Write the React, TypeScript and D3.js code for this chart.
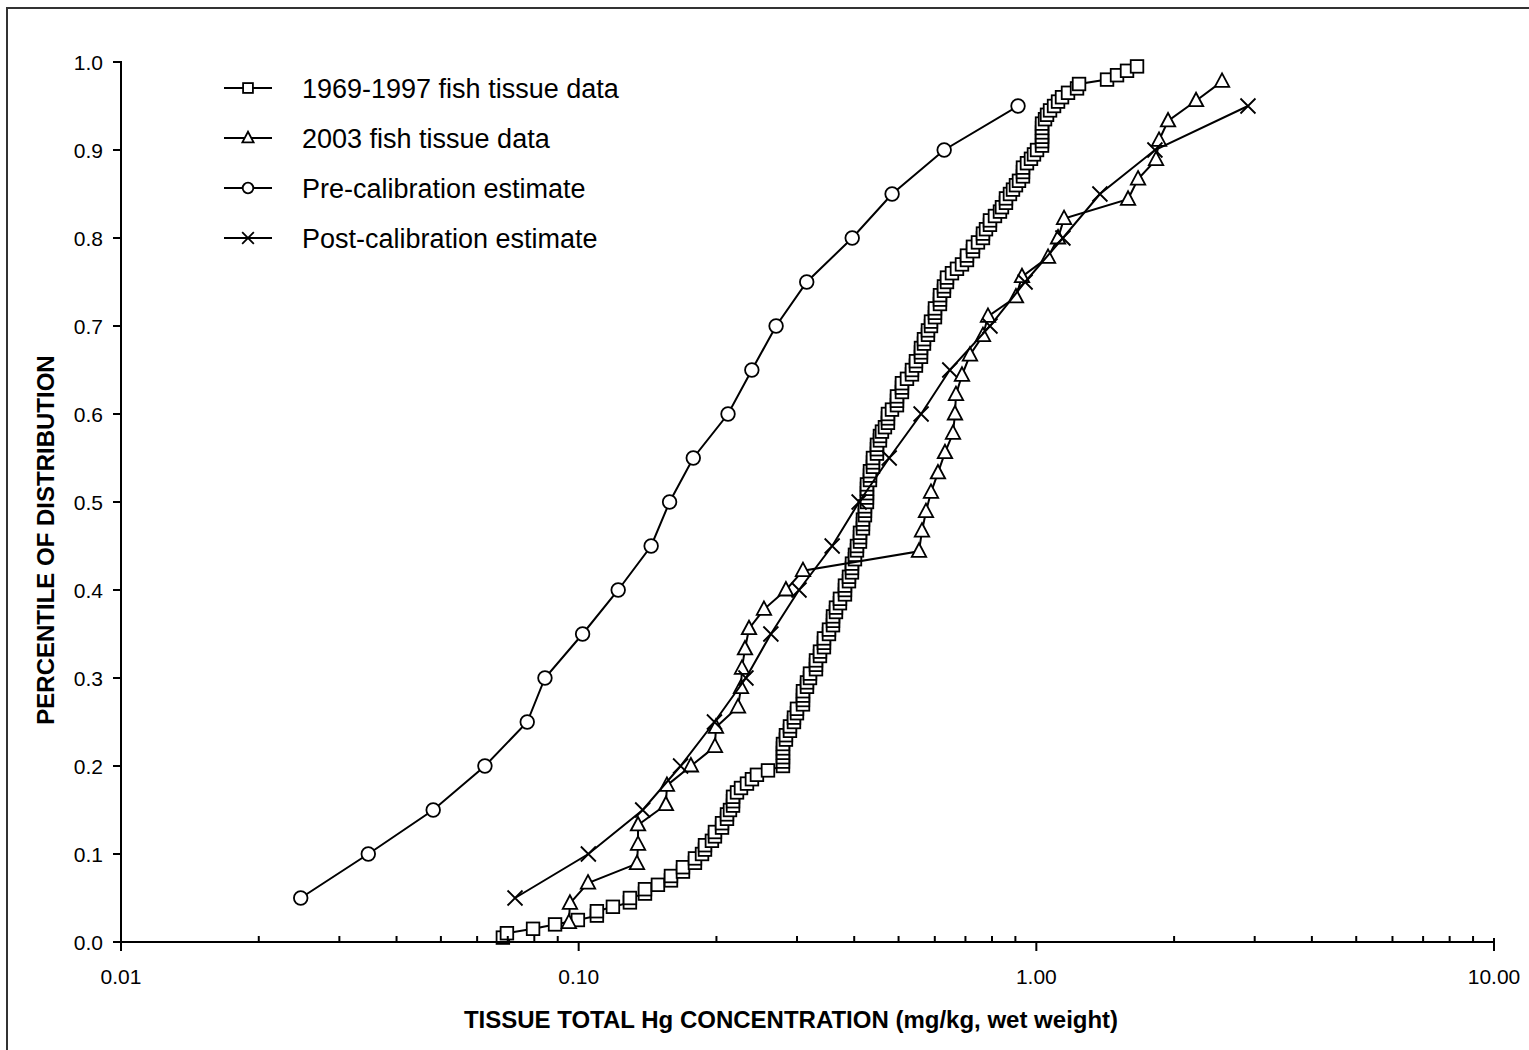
import * as d3 from "d3";

// percentiles for the two estimate curves
const estimatePct = [0.05, 0.1, 0.15, 0.2, 0.25, 0.3, 0.35, 0.4, 0.45, 0.5, 0.55, 0.6, 0.65, 0.7, 0.75, 0.8, 0.85, 0.9, 0.95];
const preCalHg = [0.0247, 0.0347, 0.0481, 0.0624, 0.0772, 0.0844, 0.102, 0.122, 0.144, 0.158, 0.178, 0.212, 0.239, 0.27, 0.315, 0.396, 0.484, 0.629, 0.912];
const postCalHg = [0.0726, 0.105, 0.138, 0.167, 0.198, 0.232, 0.263, 0.303, 0.358, 0.41, 0.477, 0.56, 0.647, 0.792, 0.945, 1.143, 1.377, 1.816, 2.9];

// 2003 fish tissue data
const fish2003Pct = [0.022, 0.044, 0.067, 0.089, 0.111, 0.133, 0.156, 0.178, 0.2, 0.222, 0.244, 0.267, 0.289, 0.311, 0.333, 0.356, 0.378, 0.4, 0.422, 0.444, 0.467, 0.489, 0.511, 0.533, 0.556, 0.578, 0.6, 0.622, 0.644, 0.667, 0.689, 0.711, 0.733, 0.756, 0.778, 0.8, 0.822, 0.844, 0.867, 0.889, 0.911, 0.933, 0.956, 0.978];
const fish2003Hg = [0.0952, 0.0957, 0.1048, 0.1341, 0.1348, 0.1348, 0.1551, 0.1559, 0.1759, 0.1985, 0.1995, 0.2229, 0.2263, 0.2274, 0.2309, 0.2356, 0.254, 0.2837, 0.3091, 0.5541, 0.5625, 0.5739, 0.5886, 0.6096, 0.6315, 0.6575, 0.6641, 0.6674, 0.6879, 0.7161, 0.7645, 0.784, 0.9026, 0.9303, 1.0606, 1.1154, 1.1496, 1.5863, 1.6681, 1.8262, 1.854, 1.9398, 2.2334, 2.5454];

// 1969-1997 fish tissue data
const fishHistPct = [
  0.005, 0.01, 0.015, 0.02, 0.025, 0.03, 0.035, 0.04, 0.045, 0.05, 0.055, 0.06, 0.065, 0.07, 0.075, 0.08, 0.085, 0.09, 0.095, 0.1,
  0.105, 0.11, 0.115, 0.12, 0.125, 0.13, 0.135, 0.14, 0.145, 0.15, 0.155, 0.16, 0.165, 0.17, 0.175, 0.18, 0.185, 0.19, 0.195, 0.2,
  0.205, 0.21, 0.215, 0.22, 0.225, 0.23, 0.235, 0.24, 0.245, 0.25, 0.255, 0.26, 0.265, 0.27, 0.275, 0.28, 0.285, 0.29, 0.295, 0.3,
  0.305, 0.31, 0.315, 0.32, 0.325, 0.33, 0.335, 0.34, 0.345, 0.35, 0.355, 0.36, 0.365, 0.37, 0.375, 0.38, 0.385, 0.39, 0.395, 0.4,
  0.405, 0.41, 0.415, 0.42, 0.425, 0.43, 0.435, 0.44, 0.445, 0.45, 0.455, 0.46, 0.465, 0.47, 0.475, 0.48, 0.485, 0.49, 0.495, 0.5,
  0.505, 0.51, 0.515, 0.52, 0.525, 0.53, 0.535, 0.54, 0.545, 0.55, 0.555, 0.56, 0.565, 0.57, 0.575, 0.58, 0.585, 0.59, 0.595, 0.6,
  0.605, 0.61, 0.615, 0.62, 0.625, 0.63, 0.635, 0.64, 0.645, 0.65, 0.655, 0.66, 0.665, 0.67, 0.675, 0.68, 0.685, 0.69, 0.695, 0.7,
  0.705, 0.71, 0.715, 0.72, 0.725, 0.73, 0.735, 0.74, 0.745, 0.75, 0.755, 0.76, 0.765, 0.77, 0.775, 0.78, 0.785, 0.79, 0.795, 0.8,
  0.805, 0.81, 0.815, 0.82, 0.825, 0.83, 0.835, 0.84, 0.845, 0.85, 0.855, 0.86, 0.865, 0.87, 0.875, 0.88, 0.885, 0.89, 0.895, 0.9,
  0.905, 0.91, 0.915, 0.92, 0.925, 0.93, 0.935, 0.94, 0.945, 0.95, 0.955, 0.96, 0.965, 0.97, 0.975, 0.98, 0.985, 0.99, 0.995,
];
const fishHistHg = [
  0.0683, 0.0697, 0.0795, 0.0888, 0.0996, 0.1096, 0.1096, 0.1188, 0.1294, 0.1294, 0.1396, 0.1396, 0.149, 0.1591, 0.1591, 0.169, 0.169, 0.1795, 0.1795, 0.186,
  0.1888, 0.1888, 0.1955, 0.1985, 0.1985, 0.2057, 0.2057, 0.2109, 0.2109, 0.2141, 0.2174, 0.2174, 0.2174, 0.2218, 0.2263, 0.2332, 0.2391, 0.2452, 0.2592, 0.2795,
  0.2795, 0.2795, 0.2795, 0.2795, 0.2795, 0.2837, 0.2837, 0.2895, 0.2895, 0.2954, 0.2954, 0.2999, 0.2999, 0.3091, 0.3091, 0.3091, 0.3091, 0.3154, 0.3154, 0.3202,
  0.3202, 0.33, 0.33, 0.33, 0.3367, 0.3367, 0.3435, 0.3435, 0.3435, 0.3523, 0.3523, 0.3595, 0.3595, 0.3595, 0.3649, 0.3649, 0.3723, 0.3723, 0.3818, 0.3818,
  0.3818, 0.3896, 0.3896, 0.3955, 0.3955, 0.3955, 0.4015, 0.4015, 0.4056, 0.4056, 0.4118, 0.4118, 0.4118, 0.418, 0.418, 0.418, 0.4222, 0.4222, 0.4222, 0.4265,
  0.4265, 0.4265, 0.4265, 0.4265, 0.433, 0.433, 0.433, 0.4396, 0.4396, 0.4396, 0.4485, 0.4485, 0.4485, 0.4553, 0.4553, 0.4599, 0.4669, 0.474, 0.474, 0.474,
  0.4837, 0.496, 0.496, 0.496, 0.5086, 0.5086, 0.5086, 0.5216, 0.5349, 0.5349, 0.5457, 0.5457, 0.5597, 0.5597, 0.5597, 0.5682, 0.5682, 0.5797, 0.5797, 0.5886,
  0.5886, 0.6005, 0.6005, 0.6005, 0.6158, 0.6158, 0.6158, 0.6283, 0.6283, 0.6379, 0.6379, 0.6541, 0.6708, 0.6879, 0.7054, 0.7054, 0.727, 0.727, 0.7455, 0.7645,
  0.7645, 0.7762, 0.7919, 0.7919, 0.8121, 0.8328, 0.8412, 0.8583, 0.8583, 0.8758, 0.8891, 0.9026, 0.9164, 0.935, 0.935, 0.935, 0.954, 0.9734, 0.9882, 1.0035,
  1.0291, 1.0291, 1.0291, 1.0291, 1.0291, 1.0291, 1.0447, 1.0553, 1.0714, 1.0932, 1.1154, 1.138, 1.1729, 1.2272, 1.2397, 1.4272, 1.5008, 1.5782, 1.6596,
];

const yTicks = [0, 0.1, 0.2, 0.3, 0.4, 0.5, 0.6, 0.7, 0.8, 0.9, 1.0];
const xMajorTicks = [0.01, 0.1, 1, 10];
const xTickLabels = ["0.01", "0.10", "1.00", "10.00"];
const xMinorTicks = [0.02, 0.03, 0.04, 0.05, 0.06, 0.07, 0.08, 0.09, 0.2, 0.3, 0.4, 0.5, 0.6, 0.7, 0.8, 0.9, 2, 3, 4, 5, 6, 7, 8, 9];

const legendNames = ["1969-1997 fish tissue data", "2003 fish tissue data", "Pre-calibration estimate", "Post-calibration estimate"];

const FONT = "'Liberation Sans', Arial, Helvetica, sans-serif";

type Shape = "square" | "triangle" | "circle" | "cross";

function Marker({ shape, x, y, s = 1 }: { shape: Shape; x: number; y: number; s?: number }) {
  const common = { fill: "#fff", stroke: "#000", strokeWidth: 1.8 };
  if (shape === "square") {
    const h = 6.3 * s;
    return <rect x={x - h} y={y - h} width={h * 2} height={h * 2} {...common} />;
  }
  if (shape === "circle") return <circle cx={x} cy={y} r={6.8 * s} {...common} />;
  if (shape === "triangle") {
    const p = `M${x},${y - 8 * s}L${x + 7.2 * s},${y + 5.5 * s}L${x - 7.2 * s},${y + 5.5 * s}Z`;
    return <path d={p} {...common} strokeLinejoin="miter" />;
  }
  const d = 7.5 * s;
  return (
    <path d={`M${x - d},${y - d}L${x + d},${y + d}M${x - d},${y + d}L${x + d},${y - d}`} stroke="#000" strokeWidth={1.8} fill="none" />
  );
}

export default function App() {
  const width = 1529;
  const height = 1050;
  const x = d3.scaleLog().domain([0.01, 10]).range([121, 1494]);
  const y = d3.scaleLinear().domain([0, 1]).range([942, 62]);

  const series: { shape: Shape; hg: number[]; pct: number[] }[] = [
    { shape: "square", hg: fishHistHg, pct: fishHistPct },
    { shape: "triangle", hg: fish2003Hg, pct: fish2003Pct },
    { shape: "circle", hg: preCalHg, pct: estimatePct },
    { shape: "cross", hg: postCalHg, pct: estimatePct },
  ];

  const line = d3
    .line<[number, number]>()
    .x((d) => x(d[0]))
    .y((d) => y(d[1]));

  const legendY = [88, 138, 188, 238];
  const legendShapes: Shape[] = ["square", "triangle", "circle", "cross"];

  return (
    <div style={{ position: "absolute", left: 0, top: 0 }}>
      <svg width={width} height={height} style={{ display: "block", background: "#fff" }} fontFamily={FONT}>
        <rect x={7} y={8} width={1600} height={1200} fill="none" stroke="#333" strokeWidth={2} />

        {series.map((s, i) => {
          const pts = s.hg.map((v, j) => [v, s.pct[j]] as [number, number]);
          return (
            <g key={i}>
              <path d={line(pts) || ""} fill="none" stroke="#000" strokeWidth={2} />
              {pts.map((p, j) => (
                <Marker key={j} shape={s.shape} x={x(p[0])} y={y(p[1])} />
              ))}
            </g>
          );
        })}

        {/* axes */}
        <line x1={121} x2={121} y1={61} y2={943} stroke="#000" strokeWidth={2} />
        <line x1={120} x2={1495} y1={942} y2={942} stroke="#000" strokeWidth={2} />
        {yTicks.map((t) => (
          <g key={t}>
            <line x1={113} x2={121} y1={y(t)} y2={y(t)} stroke="#000" strokeWidth={2} />
            <text x={103} y={y(t) + 7.5} fontSize={21} textAnchor="end" fill="#000">
              {t.toFixed(1)}
            </text>
          </g>
        ))}
        {xMinorTicks.map((t) => (
          <line key={t} x1={x(t)} x2={x(t)} y1={936} y2={942} stroke="#000" strokeWidth={2} />
        ))}
        {xMajorTicks.map((t, i) => (
          <g key={t}>
            <line x1={x(t)} x2={x(t)} y1={i === 3 ? 938 : 942} y2={951} stroke="#000" strokeWidth={2} />
            <text x={x(t)} y={984} fontSize={21} textAnchor="middle" fill="#000">
              {xTickLabels[i]}
            </text>
          </g>
        ))}

        <text x={791} y={1028} fontSize={24} fontWeight="bold" textAnchor="middle" fill="#000">
          TISSUE TOTAL Hg CONCENTRATION (mg/kg, wet weight)
        </text>
        <text transform="translate(54,540) rotate(-90)" fontSize={24} fontWeight="bold" textAnchor="middle" fill="#000">
          PERCENTILE OF DISTRIBUTION
        </text>

        {/* legend */}
        {legendNames.map((name, i) => (
          <g key={name}>
            <line x1={224} x2={272} y1={legendY[i]} y2={legendY[i]} stroke="#000" strokeWidth={2} />
            <Marker shape={legendShapes[i]} x={248} y={legendY[i]} s={0.78} />
            <text x={302} y={legendY[i] + 9.5} fontSize={27} fill="#000">
              {name}
            </text>
          </g>
        ))}
      </svg>
    </div>
  );
}
